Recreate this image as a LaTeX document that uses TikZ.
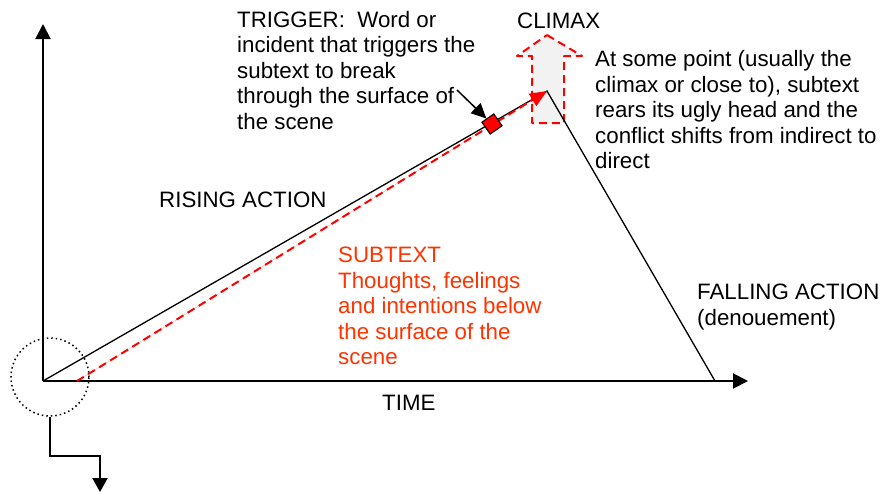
\documentclass[tikz,border=0pt]{standalone}
\usepackage{fontspec}
\setmainfont{Liberation Sans}
\usetikzlibrary{arrows.meta,shapes.geometric}
\definecolor{subred}{RGB}{255,51,0}
\definecolor{climaxgray}{RGB}{242,242,242}
\begin{document}
\begin{tikzpicture}[x=1pt,y=-1pt,
  txt/.style={anchor=north west,inner sep=0pt,align=left,font=\fontsize{22.3}{25.5}\selectfont},
  lbl/.style={anchor=base west,inner sep=0pt,font=\fontsize{22.3}{25.5}\selectfont},
  axis/.style={line width=2pt,-{Triangle[length=15pt,width=15pt]}},
  plotline/.style={line width=1.3pt},
  reddash/.style={draw=red,line width=2pt,dash pattern=on 8pt off 5pt,line join=round}]
\useasboundingbox (0,0) rectangle (882,493);
% key points
\coordinate (O) at (43,381);
\coordinate (Ytop) at (43,24);
\coordinate (Xend) at (748,381);
\coordinate (P) at (547,91);
\coordinate (F) at (715,381);
\coordinate (S) at (77,381);
% climax arrow
\draw[reddash,fill=climaxgray] (547,35) -- (582,56) -- (564,56) -- (564,123) -- (532,123) -- (532,56) -- (517,56) -- cycle;
% axes
\draw[axis] (O) -- (Ytop);
\draw[axis] (O) -- (Xend);
% plot
\draw[plotline] (O) -- (P) -- (F);
\draw[reddash,-{Triangle[length=17pt,width=14pt]},fill=red] (S) -- (P);
% trigger
\node[draw=black,fill=red,minimum size=14.5pt,inner sep=0pt,rotate=35,line width=1pt] (T) at (492,124) {};
\coordinate (Ts) at (457,90);
\draw[line width=1.5pt,-{Triangle[length=15pt,width=14pt]}] (Ts) -- (T);
% dotted circle and elbow
\node[circle,draw,line width=1.5pt,dash pattern=on 1.5pt off 3pt,minimum size=78pt,inner sep=0pt] (C) at (50,377) {};
\coordinate (E) at (100,492);
\draw[line width=2pt,-{Triangle[length=14pt,width=15pt]}] (C.south) -- ++(0,39) -| (E);
% texts
\node[txt] (trig) at (237,11) {TRIGGER:~ Word or\\incident that triggers the\\subtext to break\\through the surface of\\the scene};
\node[lbl] (clim) at (517,28) {CLIMAX};
\node[txt] (note) at (595,50.5) {At some point (usually the\\climax or close to), subtext\\rears its ugly head and the\\conflict shifts from indirect to\\direct};
\node[lbl] (rise) at (159,207.5) {RISING ACTION};
\node[txt,text=subred] (sub) at (338,247) {SUBTEXT\\Thoughts, feelings\\and intentions below\\the surface of the\\scene};
\node[txt] (fall) at (697,284) {FALLING ACTION\\(denouement)};
\node[lbl] (time) at (382,410) {TIME};
\end{tikzpicture}
\end{document}
